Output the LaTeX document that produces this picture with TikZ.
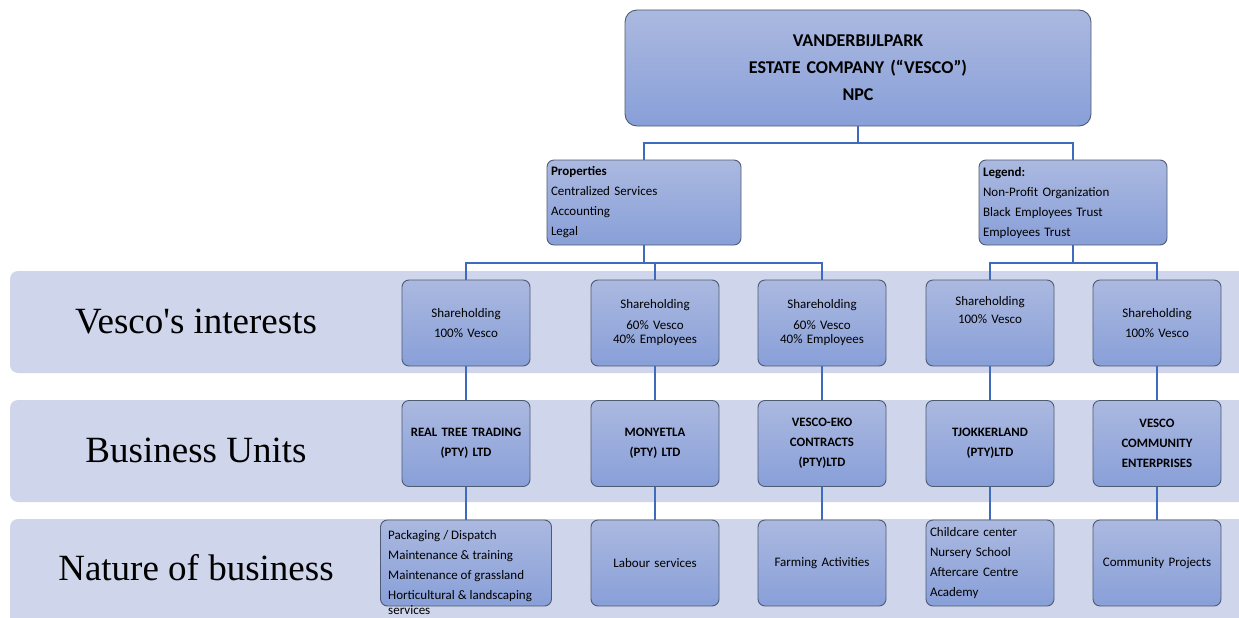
\documentclass[tikz,border=0pt]{standalone}
\usepackage{fontspec}
\setmainfont{Carlito}
\newfontfamily\timesf{Liberation Serif}
\usetikzlibrary{calc}
\definecolor{bandc}{HTML}{CFD5EA}
\definecolor{boxtop}{HTML}{ABB9E0}
\definecolor{boxbot}{HTML}{889FD8}
\definecolor{boxline}{HTML}{4F5B73}
\definecolor{connc}{HTML}{3F6BBF}
\tikzset{
  box/.style={draw=boxline, line width=0.9pt, rounded corners=7pt, top color=boxtop, bottom color=boxbot, inner sep=4pt, align=center, font=\fontsize{13}{16}\selectfont},
  smallbox/.style={box, minimum width=128pt, minimum height=86pt, text width=118pt},
  bubox/.style={smallbox, font=\bfseries\fontsize{12.8}{20}\selectfont},
  listbox/.style={box, align=left, font=\fontsize{13}{20}\selectfont},
  plaintext/.style={inner sep=0pt, align=left, font=\fontsize{13}{20}\selectfont},
  band/.style={fill=bandc, rounded corners=8pt},
  rowlabel/.style={font=\timesf\fontsize{37}{42}\selectfont},
  conn/.style={draw=connc, line width=2pt}
}
\begin{document}
\begin{tikzpicture}[x=1pt,y=-1pt]
\useasboundingbox (0,0) rectangle (1239,618);
\fill[white] (0,0) rectangle (1239,618);
% bands
\fill[band] (10,271) rectangle (1250,373);
\fill[band] (10,400) rectangle (1250,502);
\fill[band] (10,519) rectangle (1250,640);
\node[rowlabel] (l1) at (196,322) {Vesco's interests};
\node[rowlabel] (l2) at (196,450) {Business Units};
\node[rowlabel] (l3) at (196,568) {Nature of business};
% top
\node[box, rounded corners=12pt, minimum width=466pt, minimum height=116pt, text width=440pt, font=\bfseries\fontsize{18}{27}\selectfont] (top) at (858,68) {VANDERBIJLPARK\\ESTATE COMPANY (“VESCO”)\\NPC};
\node[listbox, minimum width=194pt, minimum height=85pt, text width=186pt] (props) at (644,202.5) {\textbf{Properties}\\Centralized Services\\Accounting\\Legal};
\node[listbox, minimum width=188pt, minimum height=85pt, text width=180pt] (legend) at (1073,202.5) {\textbf{Legend:}\\Non-Profit Organization\\Black Employees Trust\\Employees Trust};
% shareholding
\node[smallbox] (s1) at (466,323) {Shareholding\\[4pt]100\% Vesco};
\node[smallbox] (s2) at (655,323) {Shareholding\\[5pt]60\% Vesco\\[-2pt]40\% Employees};
\node[smallbox] (s3) at (822,323) {Shareholding\\[5pt]60\% Vesco\\[-2pt]40\% Employees};
\node[smallbox] (s4) at (990,323) {Shareholding\\[2pt]100\% Vesco\\[10pt]~};
\node[smallbox] (s5) at (1157,323) {Shareholding\\[4pt]100\% Vesco};
% business units
\node[bubox] (b1) at (466,443.5) {REAL TREE TRADING\\(PTY) LTD};
\node[bubox] (b2) at (655,443.5) {MONYETLA\\(PTY) LTD};
\node[bubox] (b3) at (822,443.5) {VESCO-EKO\\CONTRACTS\\(PTY)LTD};
\node[bubox] (b4) at (990,443.5) {TJOKKERLAND\\(PTY)LTD};
\node[bubox] (b5) at (1157,443.5) {VESCO\\COMMUNITY\\ENTERPRISES};
% nature
\node[box, minimum width=171pt, minimum height=86pt] (n1) at (466,563) {};
\node[plaintext, anchor=north west] (n1t) at (388,530) {Packaging / Dispatch\\Maintenance \& training\\Maintenance of grassland\\Horticultural \& landscaping\\[-5pt]services};
\node[smallbox] (n2) at (655,563) {Labour services};
\node[smallbox] (n3) at (822,563) {Farming Activities};
\node[listbox, minimum width=128pt, minimum height=86pt, text width=120pt] (n4) at (990,563) {Childcare center\\Nursery School\\Aftercare Centre\\Academy};
\node[smallbox] (n5) at (1157,563) {Community Projects};
% connectors
\coordinate (tj) at (858,143);
\coordinate (pj) at (644,263);
\coordinate (lj) at (1073,263);
\draw[conn] (top.south) -- (tj);
\draw[conn] (props.north) |- (tj) -| (legend.north);
\draw[conn] (props.south) -- (pj);
\draw[conn] (s1.north) |- (pj) -| (s3.north);
\draw[conn] (s2.north) -- (s2.north |- pj);
\draw[conn] (legend.south) -- (lj);
\draw[conn] (s4.north) |- (lj) -| (s5.north);
\foreach \i in {1,...,5} {
  \draw[conn] (s\i.south) -- (b\i.north);
  \draw[conn] (b\i.south) -- (n\i.north);
}
\end{tikzpicture}
\end{document}
